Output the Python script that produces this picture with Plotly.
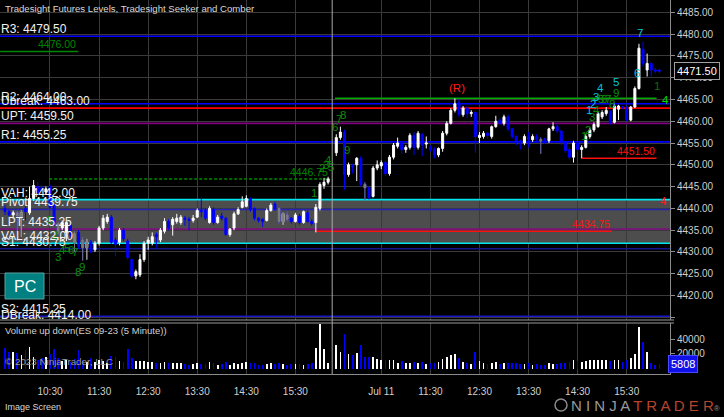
import plotly.graph_objects as go

# ------------------------------------------------------------------
# ES 09-23, 5-minute bars
# Day 1 (Jul 10) -> bar slots 0..79 ; Day 2 (Jul 11) -> bar slots 81..160
# ------------------------------------------------------------------
d1_open = [4440.00, 4439.25, 4438.50, 4439.00, 4438.00, 4440.00, 4439.00, 4442.25, 4445.00, 4444.75,
           4443.75, 4445.00, 4440.75, 4436.50, 4435.50, 4434.50, 4436.25, 4434.25, 4434.50, 4432.75,
           4431.00, 4432.25, 4430.50, 4432.00, 4435.50, 4437.00, 4438.00, 4432.75, 4432.25, 4435.00,
           4432.50, 4428.25, 4424.50, 4424.75, 4428.25, 4432.00, 4432.00, 4434.00, 4432.75, 4434.75,
           4437.00, 4436.25, 4437.00, 4436.75, 4437.75, 4437.50, 4437.25, 4438.00, 4439.50, 4439.50,
           4436.75, 4439.75, 4436.75, 4438.25, 4437.75, 4434.00, 4435.50, 4438.75, 4440.25, 4440.50,
           4442.25, 4440.00, 4437.75, 4437.50, 4437.25, 4439.50, 4441.00, 4440.00, 4437.00, 4438.50,
           4437.75, 4437.00, 4438.25, 4436.75, 4439.00, 4437.00, 4436.75, 4440.00, 4445.25, 4446.00]
d1_high = [4440.75, 4439.75, 4439.50, 4439.50, 4439.50, 4440.50, 4445.00, 4446.50, 4446.00, 4445.25,
           4445.00, 4445.50, 4441.00, 4437.00, 4437.25, 4437.00, 4436.50, 4434.75, 4435.00, 4433.50,
           4433.00, 4432.75, 4432.50, 4436.00, 4438.50, 4438.75, 4438.50, 4433.25, 4435.50, 4435.50,
           4433.00, 4428.50, 4426.00, 4429.50, 4432.50, 4433.50, 4434.50, 4434.50, 4435.50, 4437.75,
           4437.50, 4438.00, 4438.75, 4438.50, 4438.25, 4438.00, 4438.50, 4440.00, 4442.50, 4440.00,
           4440.50, 4440.25, 4438.50, 4439.00, 4438.00, 4435.50, 4439.25, 4440.25, 4442.75, 4443.00,
           4442.50, 4440.25, 4438.00, 4437.75, 4440.00, 4441.25, 4441.50, 4440.25, 4439.00, 4439.25,
           4438.00, 4439.00, 4438.75, 4439.50, 4439.50, 4437.50, 4441.00, 4446.00, 4447.00, 4447.25]
d1_low = [4438.50, 4438.25, 4437.75, 4434.50, 4433.50, 4437.25, 4438.50, 4441.75, 4443.00, 4443.25,
          4443.25, 4440.00, 4436.00, 4433.75, 4435.00, 4432.50, 4433.50, 4430.00, 4430.75, 4428.00,
          4428.25, 4429.75, 4430.00, 4431.50, 4435.00, 4436.50, 4431.75, 4429.00, 4431.50, 4432.50,
          4428.25, 4424.00, 4423.75, 4424.25, 4427.75, 4430.50, 4431.50, 4431.00, 4432.25, 4434.25,
          4435.00, 4433.75, 4436.50, 4436.25, 4436.00, 4435.00, 4436.75, 4437.75, 4438.00, 4437.25,
          4436.50, 4436.25, 4436.50, 4437.25, 4433.75, 4433.50, 4435.00, 4438.50, 4440.00, 4440.25,
          4439.25, 4437.25, 4436.75, 4435.75, 4437.00, 4439.25, 4439.50, 4436.50, 4436.25, 4437.00,
          4436.50, 4436.75, 4436.25, 4436.50, 4436.75, 4436.00, 4434.50, 4439.50, 4444.50, 4445.50]
d1_close = [4439.25, 4438.50, 4439.00, 4438.25, 4439.00, 4439.25, 4442.25, 4445.25, 4443.50, 4444.00,
            4444.50, 4440.25, 4436.75, 4434.25, 4436.75, 4436.75, 4434.00, 4432.00, 4431.25, 4431.00,
            4432.25, 4430.00, 4432.00, 4435.50, 4437.75, 4438.00, 4432.25, 4431.75, 4435.00, 4433.00,
            4428.75, 4424.50, 4425.50, 4428.25, 4432.00, 4432.75, 4433.50, 4433.50, 4435.00, 4437.00,
            4435.50, 4437.50, 4437.75, 4438.00, 4437.50, 4437.25, 4437.75, 4439.50, 4439.25, 4437.75,
            4440.00, 4436.75, 4438.00, 4437.75, 4434.00, 4435.25, 4438.75, 4439.75, 4441.50, 4442.25,
            4439.75, 4437.75, 4437.25, 4437.00, 4439.50, 4440.75, 4440.00, 4437.00, 4438.75, 4437.50,
            4437.00, 4438.50, 4436.75, 4439.25, 4437.00, 4436.50, 4440.25, 4445.50, 4446.00, 4446.75]
d1_vol = [28000, 23000, 22000, 21000, 18000, 25000, 29000, 16000, 12000, 14000,
          16000, 20000, 26000, 14000, 10000, 12000, 9000, 13000, 25000, 11000,
          9000, 14000, 9000, 12000, 10000, 8000, 17000, 15000, 10000, 9000,
          27000, 14000, 10000, 10000, 10000, 9000, 9000, 7000, 8000, 9000,
          7000, 8000, 7000, 7000, 6000, 5000, 6000, 8000, 6000, 6000,
          9000, 7000, 5000, 6000, 9000, 5000, 7000, 6000, 7000, 9000,
          8000, 7000, 5000, 5000, 6000, 7000, 6000, 7000, 6000, 5000,
          6000, 6000, 6000, 5000, 6000, 7000, 28000, 60000, 26000, 8000]

d2_open = [4452.75, 4456.25, 4457.50, 4447.75, 4449.75, 4450.00, 4451.50, 4445.50, 4444.75, 4442.75,
           4449.25, 4449.75, 4450.50, 4448.00, 4451.75, 4454.25, 4455.00, 4453.50, 4454.00, 4456.75,
           4454.00, 4457.00, 4454.75, 4454.00, 4453.50, 4452.25, 4453.75, 4457.25, 4459.50, 4462.50,
           4464.25, 4461.50, 4463.00, 4461.75, 4462.00, 4456.25, 4456.50, 4457.25, 4456.50, 4458.75,
           4460.25, 4459.50, 4461.00, 4458.25, 4456.50, 4455.50, 4455.00, 4456.50, 4455.75, 4456.50,
           4455.75, 4456.00, 4455.50, 4458.25, 4458.75, 4457.75, 4455.25, 4453.50, 4451.75, 4455.00,
           4453.50, 4454.00, 4456.50, 4458.00, 4458.75, 4461.00, 4461.75, 4462.25, 4459.75, 4462.75,
           4463.25, 4463.25, 4460.25, 4463.25, 4467.50, 4476.50, 4471.75, 4473.25, 4471.75, 4471.75]
d2_high = [4457.00, 4458.75, 4458.00, 4450.50, 4450.25, 4451.75, 4452.00, 4446.00, 4445.00, 4449.75,
           4451.00, 4451.00, 4451.00, 4452.25, 4455.00, 4456.25, 4455.25, 4454.50, 4457.25, 4457.50,
           4457.75, 4457.25, 4456.50, 4454.50, 4454.00, 4454.00, 4457.75, 4460.00, 4463.00, 4465.25,
           4465.00, 4463.50, 4463.50, 4462.50, 4462.25, 4457.50, 4457.75, 4457.50, 4459.00, 4461.25,
           4460.75, 4461.50, 4461.50, 4458.50, 4456.75, 4455.75, 4457.00, 4457.50, 4457.00, 4457.00,
           4456.25, 4456.25, 4458.50, 4459.75, 4459.50, 4458.00, 4455.50, 4454.00, 4455.50, 4455.25,
           4454.50, 4457.00, 4458.50, 4459.75, 4462.25, 4462.50, 4463.25, 4462.50, 4464.00, 4463.75,
           4463.50, 4463.50, 4463.50, 4468.00, 4477.75, 4478.25, 4475.50, 4473.50, 4472.25, 4472.00]
d2_low = [4452.00, 4455.75, 4444.25, 4447.25, 4448.00, 4446.25, 4445.00, 4442.00, 4442.00, 4442.50,
          4448.75, 4449.00, 4447.50, 4447.50, 4451.25, 4453.75, 4452.50, 4452.75, 4453.50, 4452.25,
          4453.50, 4452.00, 4453.75, 4453.00, 4451.50, 4451.75, 4453.00, 4456.75, 4459.25, 4462.00,
          4461.00, 4461.00, 4460.75, 4461.00, 4452.75, 4455.00, 4456.00, 4456.00, 4456.00, 4458.50,
          4459.00, 4459.00, 4457.75, 4456.00, 4454.50, 4453.50, 4454.50, 4454.00, 4455.25, 4455.25,
          4452.50, 4454.75, 4455.00, 4457.75, 4457.25, 4454.50, 4452.75, 4451.25, 4450.50, 4453.00,
          4451.50, 4453.75, 4456.00, 4457.50, 4458.50, 4460.50, 4461.25, 4459.25, 4459.50, 4460.25,
          4462.75, 4460.00, 4460.00, 4463.00, 4467.25, 4472.50, 4470.25, 4470.25, 4471.00, 4471.00]
d2_close = [4456.25, 4457.50, 4447.75, 4450.00, 4449.50, 4451.50, 4445.50, 4444.75, 4442.50, 4449.25,
            4450.00, 4450.50, 4448.00, 4451.75, 4454.50, 4455.00, 4453.50, 4454.00, 4456.75, 4454.00,
            4457.25, 4454.50, 4455.00, 4453.50, 4452.25, 4453.75, 4457.25, 4459.50, 4462.50, 4464.00,
            4461.50, 4463.00, 4461.75, 4462.00, 4456.50, 4456.75, 4457.25, 4456.75, 4458.75, 4460.00,
            4459.50, 4461.00, 4458.25, 4456.50, 4455.00, 4455.00, 4456.50, 4455.75, 4456.50, 4455.75,
            4455.50, 4455.25, 4458.25, 4458.75, 4457.75, 4455.25, 4453.25, 4451.75, 4455.00, 4453.50,
            4454.00, 4456.50, 4458.00, 4459.25, 4461.75, 4462.00, 4462.50, 4459.75, 4463.50, 4463.50,
            4463.00, 4460.25, 4463.25, 4467.50, 4476.75, 4473.25, 4473.25, 4471.75, 4471.50, 4471.50]
d2_vol = [32000, 22000, 47000, 20000, 19000, 21000, 32000, 16000, 16000, 16000,
          13000, 12000, 11000, 12000, 12000, 8000, 10000, 7000, 8000, 9000,
          8000, 9000, 6000, 7000, 8000, 9000, 13000, 15000, 18000, 20000,
          14000, 9000, 8000, 6000, 23000, 10000, 8000, 6000, 8000, 9000,
          6000, 7000, 8000, 7000, 7000, 6000, 6000, 7000, 5000, 6000,
          5000, 5000, 7000, 6000, 6000, 7000, 8000, 9000, 11000, 10000,
          9000, 10000, 11000, 12000, 12000, 11000, 12000, 10000, 12000, 11000,
          9000, 12000, 14000, 20000, 56000, 36000, 22000, 7000, 5000, 5808]

d1_slots = list(range(0, 80))
d2_slots = list(range(81, 161))
session_break_slot = 80

# bars painted grey by Tradesight Seeker
seeker_grey_slots = [3, 4, 13, 17, 19, 20, 67, 68, 69, 88, 131]

# time axis labels
time_tick_slots = [11, 23, 35, 47, 59, 71, 92, 104, 116, 128, 140, 152]
time_tick_text = ["10:30", "11:30", "12:30", "13:30", "14:30", "15:30",
                  "Jul 11", "11:30", "12:30", "13:30", "14:30", "15:30"]

price_ticks = [4415.0, 4420.0, 4425.0, 4430.0, 4435.0, 4440.0, 4445.0, 4450.0,
               4455.0, 4460.0, 4465.0, 4470.0, 4475.0, 4480.0, 4485.0]
vol_ticks = [0, 20000, 40000]

# Tradesight Futures Levels
level_names = ["R3", "R2", "Ubreak", "UPT", "R1", "VAH", "Pivot", "LPT", "VAL", "S1", "S2", "DBreak"]
level_values = [4479.50, 4464.00, 4463.00, 4459.50, 4455.25, 4442.00, 4439.75, 4435.25,
                4432.00, 4430.75, 4415.25, 4414.00]
value_area = [4432.00, 4442.00]

# partial-width indicator lines (start slot, end slot, price, label)
seg_start = [-1.2, 10.8, 75.8, 141.0, 80.7]
seg_end = [17.9, 79.5, 148.4, 159.3, 159.3]
seg_price = [4476.00, 4446.75, 4434.75, 4451.50, 4465.25]
seg_label = ["4476.00", "4446.75", "4434.75", "4451.50", ""]
seg_kind = ["green", "green_dash", "red", "red", "lime"]

# Seeker / Comber counts
count_slots = [11.0, 12.2, 13.0, 14.0, 15.2, 16.1, 17.0, 17.8, 18.8,
               75.6, 77.4, 78.6, 79.0, 79.8, 80.7, 81.7, 82.6, 83.6,
               141.6, 142.5, 143.5, 144.5, 145.7, 146.5, 147.4, 148.4, 149.4,
               142.8, 143.8, 144.5, 145.5, 149.4, 154.5, 155.3,
               159.4, 161.6, 161.1, 110.5]
count_prices = [4437.3, 4433.9, 4428.9, 4430.5, 4430.9, 4430.5, 4430.0, 4425.4, 4426.6,
                4443.5, 4449.3, 4450.0, 4451.1, 4449.5, 4458.7, 4460.5, 4461.4, 4453.4,
                4456.6, 4458.0, 4461.0, 4462.6, 4465.1, 4465.1, 4465.1, 4464.0, 4466.5,
                4462.6, 4464.0, 4465.5, 4467.6, 4469.0, 4471.0, 4480.2,
                4468.1, 4464.9, 4441.7, 4467.6]
count_texts = ["5", "2", "3", "4", "5", "6", "7", "8", "9",
               "1", "2", "3", "4", "5", "6", "7", "8", "9",
               "1", "2", "3", "4", "5", "6", "7", "8", "9",
               "1", "2", "3", "4", "5", "6", "7",
               "1", "4", "4", "(R)"]
count_kind = ["g"] * 27 + ["c"] * 7 + ["dg", "l", "r", "r"]

last_price = 4471.50
last_volume = 5808

# ------------------------------------------------------------------
# geometry / style
# ------------------------------------------------------------------
PLOT_W, PLOT_H = 670, 374
PX_PER_BAR, X0_PX = 4.09, 5.0
x_range = [-X0_PX / PX_PER_BAR, (PLOT_W - X0_PX) / PX_PER_BAR]
price_range = [4414.4, 4487.8]
vol_range = [-7480, 61900]


def pxx(px):
    return px / PLOT_W


def pxy(py):
    return (PLOT_H - py) / PLOT_H


price_domain = [pxy(320), 1.0]


def price_to_paper(p):
    return price_domain[0] + (p - price_range[0]) / (price_range[1] - price_range[0]) * (
        price_domain[1] - price_domain[0])


level_colors = {"R3": "#0000ff", "R2": "#0000ff", "Ubreak": "#ff0000", "UPT": "#800080",
                "R1": "#0000ff", "VAH": "#00e5ee", "Pivot": "#2424b8", "LPT": "#7a127a",
                "VAL": "#00e5ee", "S1": "#141490", "S2": "#1818c8", "DBreak": "#ff0000"}
seg_colors = {"green": "#008800", "green_dash": "#008800", "red": "#ff1010", "lime": "#00a800"}
count_colors = {"g": "#0c8c0c", "c": "#00c4dc", "dg": "#0a6e0a", "l": "#00d800", "r": "#ff1c1c"}

slots = d1_slots + d2_slots
opens = d1_open + d2_open
highs = d1_high + d2_high
lows = d1_low + d2_low
closes = d1_close + d2_close
vols = d1_vol + d2_vol

fig = go.Figure()

fig.add_trace(go.Candlestick(
    x=slots, open=opens, high=highs, low=lows, close=closes,
    xaxis="x", yaxis="y", whiskerwidth=0,
    increasing=dict(line=dict(color="#ffffff", width=1), fillcolor="#ffffff"),
    decreasing=dict(line=dict(color="#0000ff", width=1), fillcolor="#0000ff"),
    showlegend=False, hoverinfo="skip"))

gi = [k for k, s in enumerate(slots) if s in seeker_grey_slots]
fig.add_trace(go.Candlestick(
    x=[slots[k] for k in gi], open=[opens[k] for k in gi], high=[highs[k] for k in gi],
    low=[lows[k] for k in gi], close=[closes[k] for k in gi],
    xaxis="x", yaxis="y", whiskerwidth=0,
    increasing=dict(line=dict(color="#7c7c7c", width=1), fillcolor="#7c7c7c"),
    decreasing=dict(line=dict(color="#7c7c7c", width=1), fillcolor="#7c7c7c"),
    showlegend=False, hoverinfo="skip"))

vol_colors = ["#ffffff" if c >= o else "#0000ff" for o, c in zip(opens, closes)]
fig.add_trace(go.Bar(x=slots, y=vols, marker=dict(color=vol_colors, line=dict(width=0)),
                     width=0.42, xaxis="x", yaxis="y2", showlegend=False, hoverinfo="skip"))

shapes = []
# value area band
shapes.append(dict(type="rect", xref="x", yref="y", x0=x_range[0], x1=x_range[1],
                   y0=value_area[0], y1=value_area[1], fillcolor="#4d4d4d",
                   line=dict(width=0), layer="below"))
# level lines
for name, val in zip(level_names, level_values):
    shapes.append(dict(type="line", xref="x", yref="y", x0=x_range[0], x1=x_range[1],
                       y0=val, y1=val, line=dict(color=level_colors[name], width=1.6),
                       layer="between"))
# partial lines
for s0, s1, p, kind in zip(seg_start, seg_end, seg_price, seg_kind):
    shapes.append(dict(type="line", xref="x", yref="y", x0=s0, x1=s1, y0=p, y1=p,
                       line=dict(color=seg_colors[kind], width=1.4,
                                 dash="3px,2px" if kind == "green_dash" else "solid"),
                       layer="between"))
# session break
shapes.append(dict(type="line", xref="x", yref="paper", x0=session_break_slot,
                   x1=session_break_slot, y0=0, y1=1, line=dict(color="#a8a8a8", width=1),
                   layer="above"))
# panel separators
for py in (320, 323):
    shapes.append(dict(type="line", xref="paper", yref="paper", x0=0, x1=pxx(674),
                       y0=pxy(py), y1=pxy(py), line=dict(color="#9a9a9a", width=1)))
# PC box
shapes.append(dict(type="rect", xref="paper", yref="paper", x0=pxx(5), x1=pxx(44),
                   y0=pxy(299), y1=pxy(273), fillcolor="#008080",
                   line=dict(color="#5aa0a0", width=1)))
# NinjaTrader logo circle
shapes.append(dict(type="circle", xref="paper", yref="paper", x0=pxx(555), x1=pxx(567),
                   y0=pxy(411), y1=pxy(399), line=dict(color="#8a8a8a", width=1.5)))

annotations = []
for s, p, t, k in zip(count_slots, count_prices, count_texts, count_kind):
    annotations.append(dict(x=s, y=p, xref="x", yref="y", text=t, showarrow=False,
                            font=dict(size=11.5, color=count_colors[k]),
                            xanchor="center", yanchor="middle"))
for s1, p, lab, kind in zip(seg_end, seg_price, seg_label, seg_kind):
    if lab:
        annotations.append(dict(x=s1, y=p, xref="x", yref="y", text=lab, showarrow=False,
                                font=dict(size=10.5, color=seg_colors[kind]),
                                xanchor="right", yanchor="middle", yshift=7))
for name, val in zip(level_names, level_values):
    annotations.append(dict(x=pxx(-1.5), y=price_to_paper(val), xref="paper", yref="paper",
                            text=f"{name}: {val:.2f}", showarrow=False,
                            font=dict(size=12, color="#f2f2f2"),
                            xanchor="left", yanchor="middle", yshift=7))

annotations += [
    dict(x=pxx(3), y=pxy(9), xref="paper", yref="paper",
         text="Tradesight Futures Levels, Tradesight Seeker and Comber", showarrow=False,
         font=dict(size=9.6, color="#d8d8d8"), xanchor="left", yanchor="middle"),
    dict(x=pxx(24.5), y=pxy(286), xref="paper", yref="paper", text="PC", showarrow=False,
         font=dict(size=16, color="#ffffff"), xanchor="center", yanchor="middle"),
    dict(x=pxx(3), y=pxy(330), xref="paper", yref="paper",
         text="Volume up down(ES 09-23 (5 Minute))", showarrow=False,
         font=dict(size=9.5, color="#d0d0d0"), xanchor="left", yanchor="middle"),
    dict(x=pxx(3), y=pxy(361), xref="paper", yref="paper",
         text="© 2023 NinjaTrader, LLC", showarrow=False,
         font=dict(size=9.8, color="#9a9a9a"), xanchor="left", yanchor="middle"),
    dict(x=pxx(3), y=pxy(407), xref="paper", yref="paper", text="Image Screen",
         showarrow=False, font=dict(size=9, color="#d8d8d8"),
         xanchor="left", yanchor="middle"),
    dict(x=pxx(722), y=pxy(405), xref="paper", yref="paper",
         text="<span style='color:#9a9a9a'>N I N J A </span>"
              "<span style='color:#b5452f'>T R A D E R</span>"
              "<span style='color:#9a9a9a;font-size:8px'>®</span>",
         showarrow=False, font=dict(size=15, color="#9a9a9a"),
         xanchor="right", yanchor="middle"),
    dict(x=pxx(674), y=last_price, xref="paper", yref="y", text=f"{last_price:.2f}",
         showarrow=False, font=dict(size=11, color="#ffffff"), bgcolor="#000000",
         bordercolor="#a0a0a0", borderwidth=1, borderpad=2,
         xanchor="left", yanchor="middle"),
    dict(x=pxx(668), y=last_volume, xref="paper", yref="y2", text=f"{last_volume}",
         showarrow=False, font=dict(size=11, color="#ffffff"), bgcolor="#1010e8",
         bordercolor="#4848ff", borderwidth=1, borderpad=2,
         xanchor="left", yanchor="middle"),
]

axis_font = dict(family="Arial", size=10, color="#cfcfcf")
fig.update_layout(
    width=724, height=417,
    margin=dict(l=0, r=54, t=0, b=43, autoexpand=False),
    paper_bgcolor="#000000", plot_bgcolor="#000000",
    font=dict(family="Arial", color="#ffffff"),
    showlegend=False,
    bargap=0,
    xaxis=dict(domain=[0, 1], anchor="y2", range=x_range, rangeslider=dict(visible=False),
               tickmode="array", tickvals=time_tick_slots, ticktext=time_tick_text,
               tickfont=axis_font, showgrid=True, gridcolor="#3a3a3a", gridwidth=1,
               zeroline=False, showline=True, linecolor="#8c8c8c", ticks="",
               ticklabelstandoff=8, fixedrange=True),
    yaxis=dict(domain=price_domain, anchor="x", side="right", range=price_range,
               tickmode="array", tickvals=price_ticks,
               ticktext=["" if v < price_ticks[1] else f"{v:.2f}" for v in price_ticks],
               tickfont=axis_font, showgrid=True, gridcolor="#3a3a3a", gridwidth=1,
               zeroline=False, showline=True, linecolor="#8c8c8c",
               ticks="outside", ticklen=4, tickcolor="#8c8c8c"),
    yaxis2=dict(domain=[0, pxy(323)], anchor="x", side="right", range=vol_range,
                tickmode="array", tickvals=vol_ticks, ticktext=[str(v) for v in vol_ticks],
                tickfont=axis_font, showgrid=False, zeroline=False, showline=True,
                linecolor="#8c8c8c", ticks="outside", ticklen=4, tickcolor="#8c8c8c"),
    shapes=shapes,
    annotations=annotations,
)

fig.write_html(
    "out.html",
    config={"displayModeBar": False, "staticPlot": True},
    post_script="document.body.style.margin='0';document.body.style.padding='0';"
                "document.body.style.background='#000';",
)
